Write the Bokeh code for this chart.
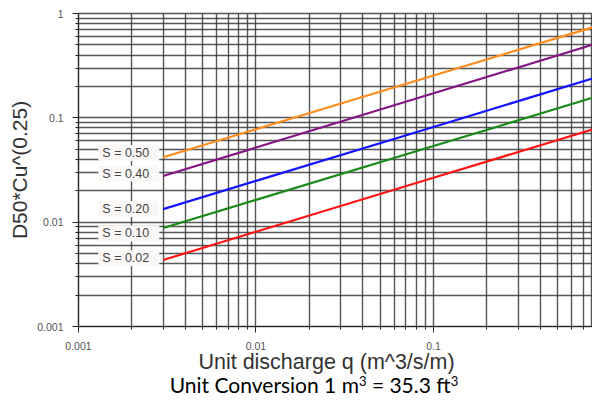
from bokeh.plotting import figure
from bokeh.models import FixedTicker, Label, Range1d, Div
from bokeh.layouts import column
from bokeh.embed import file_html
from bokeh.resources import INLINE

# ---- data ----
q = [0.003, 0.01, 0.1, 1.0]
series_names = ["S = 0.50", "S = 0.40", "S = 0.20", "S = 0.10", "S = 0.02"]
d_s050 = [0.0419, 0.0778, 0.2545, 0.833]
d_s040 = [0.0277, 0.0519, 0.1718, 0.569]
d_s020 = [0.01334, 0.02487, 0.0818, 0.2693]
d_s010 = [0.00878, 0.01635, 0.0537, 0.1762]
d_s002 = [0.004343, 0.0081, 0.02665, 0.0877]
major_ticks = [0.001, 0.01, 0.1, 1]
major_labels = ["0.001", "0.01", "0.1", "1"]
minor_mult = [2, 3, 4, 5, 6, 7, 8, 9]
label_x = 0.00192
label_y = [0.0460, 0.0292, 0.0134, 0.0078, 0.0045]
x_title = "Unit discharge q (m^3/s/m)"
y_title = "D50*Cu^(0.25)"
note_html = "Unit Conversion 1 m<sup>3</sup> = 35.3 ft<sup>3</sup>"

series = [d_s050, d_s040, d_s020, d_s010, d_s002]
colors = ["#ff8c1a", "#851585", "#1414ff", "#1a8a1a", "#ff1414"]

minor_ticks = [m * t for t in major_ticks[:-1] for m in minor_mult]

p = figure(width=592, height=376, x_axis_type="log", y_axis_type="log",
           x_range=Range1d(0.001, 0.787), y_range=Range1d(0.001, 1),
           output_backend="svg", toolbar_location=None,
           min_border_left=78, min_border_right=0, min_border_top=13,
           min_border_bottom=49)
p.background_fill_color = "white"
p.border_fill_color = "white"
p.outline_line_color = "#555555"
p.outline_line_width = 1.5

for g in (p.xgrid, p.ygrid):
    g.ticker = FixedTicker(ticks=major_ticks + minor_ticks)
    g.grid_line_color = "#3a3a3a"
    g.grid_line_width = 1.4
    g.grid_line_alpha = 0.85

for ax in (p.xaxis, p.yaxis):
    ax.ticker = FixedTicker(ticks=major_ticks, minor_ticks=minor_ticks)
    ax.major_label_overrides = dict(zip(major_ticks, major_labels))
    ax.major_label_text_font = "Liberation Sans"
    ax.major_label_text_font_size = "10.5px"
    ax.major_label_text_color = "#555555"
    ax.axis_line_color = "#222222"
    ax.major_tick_line_color = "#222222"
    ax.minor_tick_line_color = "#222222"
    ax.major_tick_out = 6
    ax.major_tick_in = 0
    ax.minor_tick_out = 3
    ax.minor_tick_in = 0
    ax.axis_label_text_font = "Liberation Sans"
    ax.axis_label_text_font_size = "21px"
    ax.axis_label_text_font_style = "normal"
    ax.axis_label_text_color = "#333333"

p.xaxis.major_label_standoff = 9
p.yaxis.major_label_standoff = 9

p.yaxis.axis_label = y_title
p.yaxis.axis_label_standoff = 3

p.xaxis.axis_label = x_title + "\u00a0\u00a0\u00a0"
p.xaxis.axis_label_text_font_size = "21.5px"
p.xaxis.axis_label_standoff = -3

for ys, c in zip(series, colors):
    p.line(q, ys, line_color=c, line_width=2.2)

for txt, y in zip(series_names, label_y):
    p.add_layout(Label(x=label_x, y=y, text=txt, text_align="center",
                       text_baseline="middle", text_font="Liberation Sans",
                       text_font_size="12.5px", text_color="#444444",
                       background_fill_color="#f9f8f6", background_fill_alpha=1.0,
                       padding=(4, 10, 1, 1)))

note = Div(
    text=('<div style="width:628px;text-align:center;white-space:nowrap;'
          'font-family:Lato;font-weight:400;font-size:21px;line-height:12px;color:#000;'
          'margin-top:3px;">' + note_html.replace(
              "<sup>", '<sup style="font-size:0.62em;line-height:0;vertical-align:0.55em;">')
          + '</div>'),
    width=592, height=12, margin=0, styles={"overflow": "visible"})

layout = column(p, note, spacing=0)

open("out.html", "w").write(file_html(layout, INLINE))
